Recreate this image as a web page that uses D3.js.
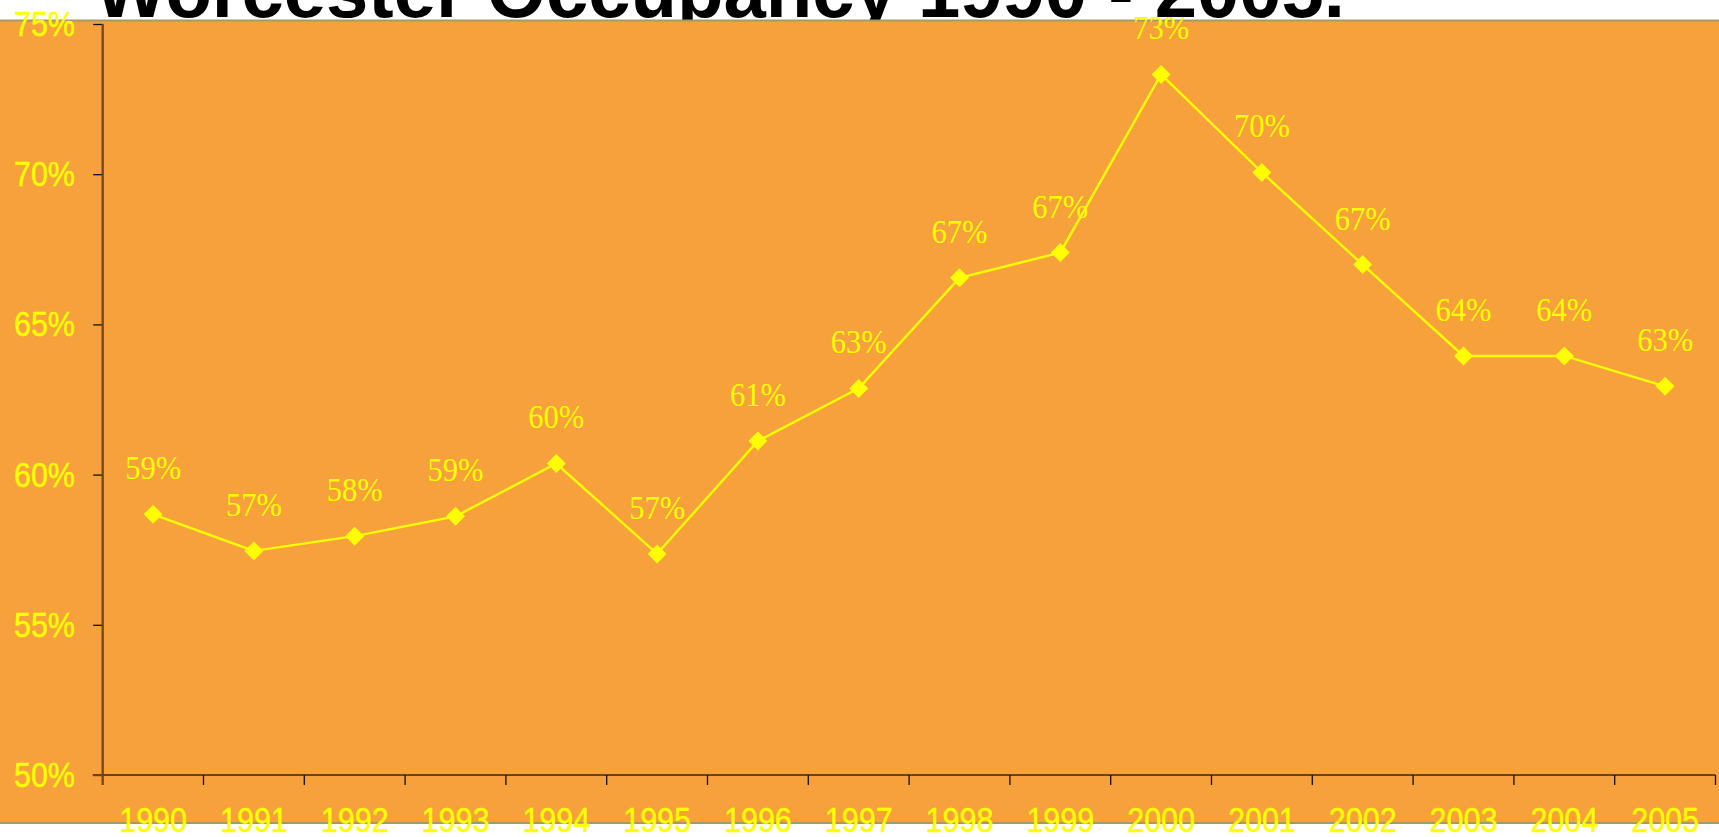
<!DOCTYPE html>
<html>
<head>
<meta charset="utf-8">
<script src="https://cdn.jsdelivr.net/npm/d3@7"></script>
<style>
  html, body { margin: 0; padding: 0; background: #ffffff; }
  svg { display: block; }
</style>
</head>
<body>
<script>
// Hotel occupancy rate by year, Worcester
const years = ["1990","1991","1992","1993","1994","1995","1996","1997",
               "1998","1999","2000","2001","2002","2003","2004","2005"];
const occupancy = [58.68, 57.46, 57.95, 58.61, 60.37, 57.36, 61.12, 62.87,
                   66.55, 67.39, 73.32, 70.06, 66.99, 63.95, 63.95, 62.94];
const yTicks = [50, 55, 60, 65, 70, 75];
const titleText = "Worcester Occupancy 1990 - 2005.";

const W = 1719, H = 837;
const panelTop = 21, panelBottom = 823;
const plot = { left: 102.7, right: 1715.5, top: 24, bottom: 775 };
const stretch = 1.12;   // fonts are drawn slightly taller than wide

const svg = d3.select("body").append("svg")
  .attr("width", W).attr("height", H);

// Title sits above the coloured panel, mostly outside the page
svg.append("text")
  .attr("x", 95).attr("y", 16.7)
  .attr("font-family", "Liberation Sans, Arial, sans-serif")
  .attr("font-weight", "bold")
  .attr("font-size", 76)
  .attr("textLength", 1250)
  .attr("lengthAdjust", "spacingAndGlyphs")
  .attr("fill", "#000")
  .text(titleText);

// Orange panel
svg.append("rect")
  .attr("x", 0).attr("y", panelTop)
  .attr("width", W).attr("height", panelBottom - panelTop)
  .attr("fill", "#f7a13c");
svg.append("line")
  .attr("x1", 0).attr("x2", W).attr("y1", panelTop - 0.5).attr("y2", panelTop - 0.5)
  .attr("stroke", "#a39b62").attr("stroke-width", 2);
svg.append("line")
  .attr("x1", 0).attr("x2", W).attr("y1", panelBottom).attr("y2", panelBottom)
  .attr("stroke", "#a39b62").attr("stroke-width", 2);

const x = d3.scaleBand().domain(years).range([plot.left, plot.right]).padding(0);
const y = d3.scaleLinear().domain([50, 75]).range([plot.bottom, plot.top]);

const axisColor = "#6a4419";
const sans = "Liberation Sans, Arial, sans-serif";
const serif = "Liberation Serif, Times New Roman, serif";

// Y axis
const yAxis = svg.append("g")
  .attr("transform", `translate(${plot.left},0)`)
  .call(d3.axisLeft(y).tickValues(yTicks).tickSize(9.5).tickSizeOuter(0).tickFormat(""));
yAxis.select(".domain").remove();
yAxis.selectAll(".tick line").attr("stroke", "#111").attr("stroke-width", 1.3);
svg.append("line")
  .attr("x1", plot.left).attr("x2", plot.left)
  .attr("y1", y(75)).attr("y2", plot.bottom + 10)
  .attr("stroke", axisColor).attr("stroke-width", 2.2);

svg.append("g").selectAll("text")
  .data(yTicks)
  .join("text")
  .attr("transform", d => `translate(75,${y(d) + 12}) scale(1,${stretch})`)
  .attr("text-anchor", "end")
  .attr("font-family", sans)
  .attr("font-size", 30.5)
  .attr("fill", "#ffff00")
  .attr("stroke", "#ffff00").attr("stroke-width", 0.4)
  .text(d => d + "%");

// X axis: ticks on category boundaries
const boundaries = years.map(d => x(d)).concat([x.range()[1]]);
svg.append("line")
  .attr("x1", plot.left - 10).attr("x2", plot.right)
  .attr("y1", plot.bottom).attr("y2", plot.bottom)
  .attr("stroke", axisColor).attr("stroke-width", 2.2);
svg.append("g").selectAll("line")
  .data(boundaries.slice(1))
  .join("line")
  .attr("x1", d => d).attr("x2", d => d)
  .attr("y1", plot.bottom).attr("y2", plot.bottom + 10)
  .attr("stroke", "#111").attr("stroke-width", 1.3);

// Series line
const cx = d => x(d) + x.bandwidth() / 2;
const line = d3.line().x((d, i) => cx(years[i])).y(d => y(d));
svg.append("path")
  .datum(occupancy)
  .attr("d", line)
  .attr("fill", "none")
  .attr("stroke", "#ffff00")
  .attr("stroke-width", 2.4);

// Diamond markers
const r = 9.5;
svg.append("g").selectAll("path")
  .data(occupancy)
  .join("path")
  .attr("transform", (d, i) => `translate(${cx(years[i])},${y(d)})`)
  .attr("d", `M0,${-r}L${r},0L0,${r}L${-r},0Z`)
  .attr("fill", "#ffff00");

// Value labels
svg.append("g").selectAll("text")
  .data(occupancy)
  .join("text")
  .attr("transform", (d, i) => `translate(${cx(years[i])},${y(d) - 35}) scale(1,${stretch})`)
  .attr("text-anchor", "middle")
  .attr("font-family", serif)
  .attr("font-size", 30.5)
  .attr("fill", "#ffff00")
  .text(d => Math.round(d) + "%");

// Category labels, drawn last so they sit over the panel edge
svg.append("g").selectAll("text")
  .data(years)
  .join("text")
  .attr("transform", d => `translate(${cx(d)},832) scale(1,${stretch})`)
  .attr("text-anchor", "middle")
  .attr("font-family", sans)
  .attr("font-size", 30.5)
  .attr("fill", "#ffff00")
  .attr("stroke", "#ffff00").attr("stroke-width", 0.4)
  .text(d => d);
</script>
</body>
</html>
